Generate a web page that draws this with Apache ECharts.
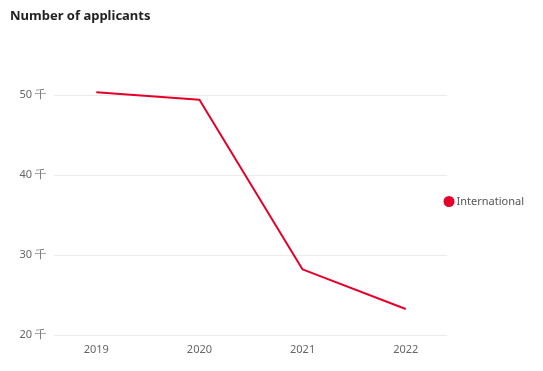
<!DOCTYPE html>
<html><head><meta charset="utf-8">
<script src="https://cdn.jsdelivr.net/npm/echarts@6/dist/echarts.min.js"></script>
<style>html,body{margin:0;padding:0;background:#fff}#c{width:543px;height:371px}</style>
</head><body><div id="c"></div>
<script>
const years = [2019, 2020, 2021, 2022];
const international = [50350, 49400, 28200, 23250];
const yTicks = [20000, 30000, 40000, 50000];

const chart = echarts.init(document.getElementById('c'), null, {renderer: 'canvas'});
chart.setOption({
  animation: false,
  textStyle: {fontFamily: 'Noto Sans'},
  title: {
    text: 'Number of applicants', left: 5, top: 5,
    textStyle: {fontSize: 13, fontWeight: 'bold', color: '#222', fontFamily: 'Noto Sans'}
  },
  legend: {
    orient: 'vertical', right: 14, top: 191,
    icon: 'circle', itemWidth: 11, itemHeight: 11,
    textStyle: {fontSize: 11, color: '#555', padding: [0,0,0,-3]},
    data: ['International']
  },
  grid: {left: 54, right: 96, top: 95, bottom: 36, containLabel: false},
  xAxis: {
    type: 'value', min: 2018.59, max: 2022.4,
    axisLine: {show: false}, axisTick: {show: false}, splitLine: {show: false},
    axisLabel: {customValues: years, color: '#666', fontSize: 11, margin: 9, formatter: v => String(v)}
  },
  yAxis: {
    type: 'value', min: 20000, max: 50000, interval: 10000,
    axisLine: {show: false}, axisTick: {show: false},
    splitLine: {lineStyle: {color: '#ebebeb', width: 1}},
    axisLabel: {color: '#666', fontSize: 11, margin: 8, formatter: v => (v / 1000) + ' 千'}
  },
  series: [{
    name: 'International', type: 'line', clip: false,
    showSymbol: false, symbol: 'circle',
    itemStyle: {color: '#e4002b'},
    lineStyle: {color: '#e4002b', width: 2},
    data: years.map((y, i) => [y, international[i]])
  }]
});
</script></body></html>
